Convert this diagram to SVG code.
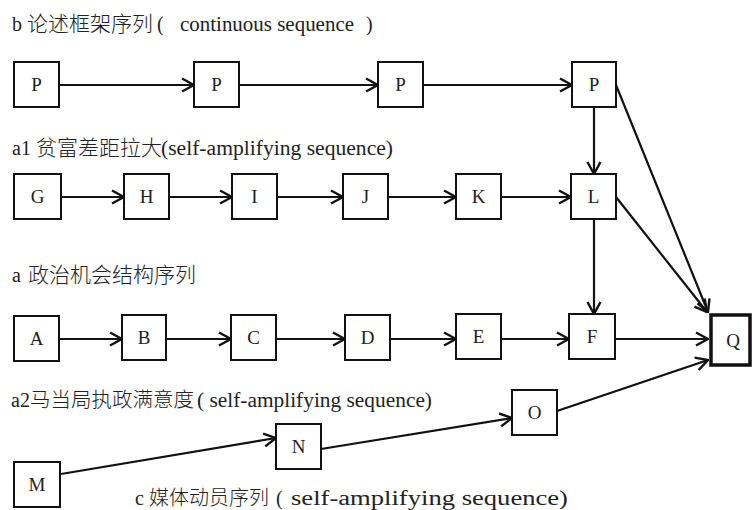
<svg xmlns="http://www.w3.org/2000/svg" width="752" height="510" viewBox="0 0 752 510">
<style>
.box{fill:#fff;stroke:#111;stroke-width:2}
.qbox{fill:#fff;stroke:#111;stroke-width:3.5}
.lt{font-family:"Liberation Serif",serif;font-size:19px;fill:#222;text-anchor:middle}
.lab{font-size:20px;fill:#222}
.lat{font-family:"Liberation Serif",serif}
.cjk{font-family:"Noto Sans CJK SC",sans-serif;font-weight:300;font-size:21px}
.con line{stroke:#111;stroke-width:2.2;marker-end:url(#arr)}
</style>
<defs>
<marker id="arr" viewBox="0 0 14 16" markerWidth="14" markerHeight="16" refX="13" refY="8" orient="auto" markerUnits="userSpaceOnUse">
<path d="M1,1.5 L13,8 L1,14.5" fill="none" stroke="#111" stroke-width="2.4"/>
</marker>
</defs>
<rect width="752" height="510" fill="#fff"/>

<text class="lab" y="31"><tspan class="lat" x="12">b</tspan><tspan class="cjk" x="27">论述框架序列</tspan><tspan class="lat" x="157">(</tspan><tspan class="lat" x="180" textLength="174" lengthAdjust="spacingAndGlyphs">continuous sequence</tspan><tspan class="lat" x="366">)</tspan></text>
<text class="lab" y="155"><tspan class="lat" x="12">a1</tspan><tspan class="cjk" x="36">贫富差距拉大</tspan><tspan class="lat" x="161" textLength="232" lengthAdjust="spacingAndGlyphs">(self-amplifying sequence)</tspan></text>
<text class="lab" y="282"><tspan class="lat" x="12">a</tspan><tspan class="cjk" x="28">政治机会结构序列</tspan></text>
<text class="lab" y="407"><tspan class="lat" x="11">a2</tspan><tspan class="cjk" x="30" style="font-size:20.5px">马当局执政满意度</tspan><tspan class="lat" x="197" textLength="235" lengthAdjust="spacingAndGlyphs">( self-amplifying sequence)</tspan></text>
<text class="lab" y="505"><tspan class="lat" x="135">c</tspan><tspan class="cjk" x="149" style="font-size:20px">媒体动员序列</tspan><tspan class="lat" x="276">(</tspan><tspan class="lat" x="291" textLength="277" lengthAdjust="spacingAndGlyphs">self-amplifying sequence)</tspan></text>

<g class="con">
<line x1="59" y1="85" x2="194" y2="85"/>
<line x1="239" y1="85" x2="378" y2="85"/>
<line x1="423" y1="85" x2="572" y2="85"/>
<line x1="61" y1="197" x2="124" y2="197"/>
<line x1="169" y1="197" x2="232" y2="197"/>
<line x1="277" y1="197" x2="343" y2="197"/>
<line x1="388" y1="197" x2="456" y2="197"/>
<line x1="501" y1="197" x2="571" y2="197"/>
<line x1="59" y1="339" x2="122" y2="339"/>
<line x1="166" y1="339" x2="231" y2="339"/>
<line x1="276" y1="339" x2="345" y2="339"/>
<line x1="390" y1="339" x2="456" y2="339"/>
<line x1="501" y1="339" x2="569" y2="339"/>
<line x1="615" y1="339" x2="708" y2="339"/>
<line x1="594" y1="107" x2="594" y2="174"/>
<line x1="594" y1="219" x2="594" y2="314"/>
<line x1="616" y1="85" x2="708" y2="312"/>
<line x1="616" y1="197" x2="707" y2="312"/>
<line x1="61" y1="474" x2="276" y2="438"/>
<line x1="321" y1="449" x2="512" y2="418"/>
<line x1="557" y1="411" x2="708" y2="360"/>
</g>

<g id="P1"><rect class="box" x="14" y="62" width="45" height="45"/><text class="lt" x="36.5" y="91">P</text></g>
<g id="P2"><rect class="box" x="194" y="62" width="45" height="45"/><text class="lt" x="216.5" y="91">P</text></g>
<g id="P3"><rect class="box" x="378" y="62" width="45" height="45"/><text class="lt" x="400.5" y="91">P</text></g>
<g id="P4"><rect class="box" x="572" y="62" width="44" height="45"/><text class="lt" x="594" y="91">P</text></g>

<g id="G"><rect class="box" x="14" y="174" width="47" height="45"/><text class="lt" x="37.5" y="203">G</text></g>
<g id="H"><rect class="box" x="124" y="174" width="45" height="45"/><text class="lt" x="146.5" y="203">H</text></g>
<g id="I"><rect class="box" x="232" y="174" width="45" height="45"/><text class="lt" x="254.5" y="203">I</text></g>
<g id="J"><rect class="box" x="343" y="174" width="45" height="45"/><text class="lt" x="365.5" y="203">J</text></g>
<g id="K"><rect class="box" x="456" y="174" width="45" height="45"/><text class="lt" x="478.5" y="203">K</text></g>
<g id="L"><rect class="box" x="571" y="174" width="45" height="45"/><text class="lt" x="593.5" y="203">L</text></g>

<g id="A"><rect class="box" x="14" y="316" width="45" height="45"/><text class="lt" x="36.5" y="345">A</text></g>
<g id="B"><rect class="box" x="122" y="315" width="44" height="45"/><text class="lt" x="144" y="344">B</text></g>
<g id="C"><rect class="box" x="231" y="315" width="45" height="45"/><text class="lt" x="253.5" y="344">C</text></g>
<g id="D"><rect class="box" x="345" y="315" width="45" height="45"/><text class="lt" x="367.5" y="344">D</text></g>
<g id="E"><rect class="box" x="456" y="314" width="45" height="45"/><text class="lt" x="478.5" y="343">E</text></g>
<g id="F"><rect class="box" x="569" y="314" width="46" height="45"/><text class="lt" x="592" y="343">F</text></g>

<g id="Q"><rect class="qbox" x="711" y="315" width="39" height="50"/><text class="lt" x="733" y="347">Q</text></g>

<g id="M"><rect class="box" x="14" y="462" width="46" height="45"/><text class="lt" x="37" y="491">M</text></g>
<g id="N"><rect class="box" x="276" y="424" width="45" height="45"/><text class="lt" x="298.5" y="453">N</text></g>
<g id="O"><rect class="box" x="512" y="390" width="45" height="45"/><text class="lt" x="534.5" y="419">O</text></g>
</svg>
